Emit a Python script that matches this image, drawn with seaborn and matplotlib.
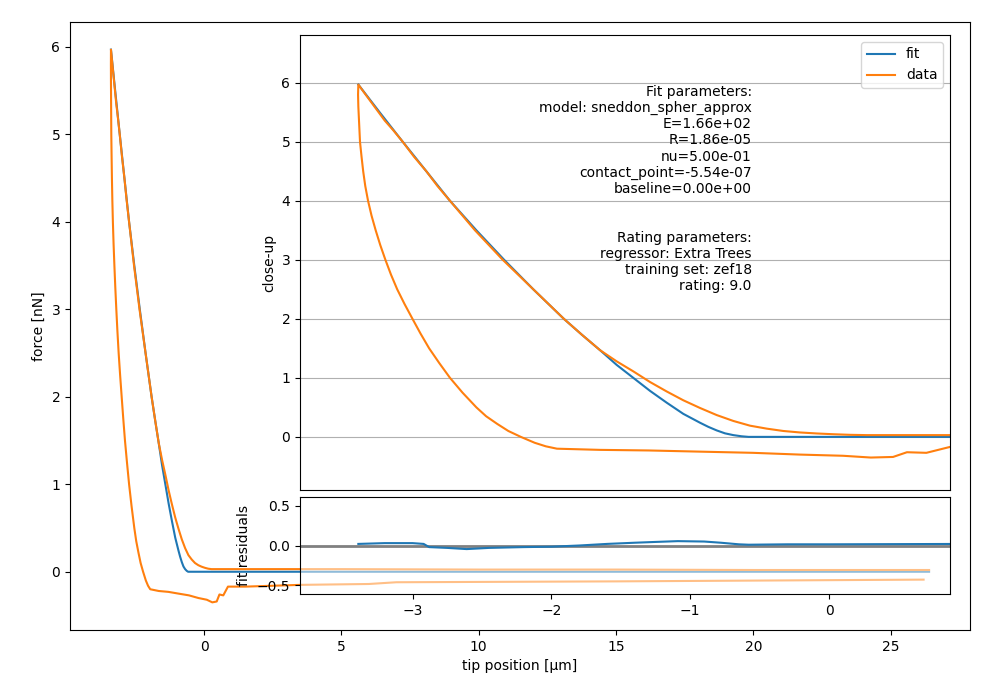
import seaborn as sns
import matplotlib.pyplot as plt

# approach part of the curve, from far away towards the indentation peak
approach_x = [26.4, 20.0, 15.0, 10.0, 5.0, 0.87, 0.27, 0.15, 0.03, -0.09, -0.21, -0.33,
              -0.45, -0.57, -0.69, -0.81, -0.93, -1.05, -1.17, -1.29, -1.41, -1.53, -1.65,
              -1.78, -1.91, -2.02, -2.13, -2.24, -2.35, -2.45, -2.55, -2.64, -2.73, -2.82,
              -2.90, -2.99, -3.07, -3.14, -3.20, -3.25, -3.30, -3.35, -3.39]
approach_f = [0.02, 0.02, 0.025, 0.025, 0.03, 0.03, 0.03, 0.035, 0.045, 0.058, 0.075, 0.10,
              0.14, 0.19, 0.27, 0.37, 0.49, 0.62, 0.77, 0.93, 1.11, 1.28, 1.47,
              1.73, 2.0, 2.25, 2.5, 2.75, 3.0, 3.25, 3.5, 3.75, 4.0, 4.25,
              4.5, 4.75, 5.0, 5.2, 5.36, 5.52, 5.68, 5.84, 5.97]

# retract part, from the peak back out
retract_x = [-3.39, -3.392, -3.39, -3.386, -3.382, -3.378, -3.367, -3.355, -3.34, -3.32,
             -3.295, -3.265, -3.232, -3.195, -3.155, -3.11, -3.057, -3.0, -2.942, -2.88,
             -2.807, -2.73, -2.64, -2.54, -2.47, -2.39, -2.31, -2.22, -2.12,
             -2.04, -1.96, -1.65, -1.30, -0.93, -0.55, -0.21, 0.10, 0.30, 0.46, 0.56, 0.70,
             0.87, 1.5, 3.5, 6.0, 7.0, 15.0, 26.2]
retract_f = [5.97, 5.8, 5.6, 5.4, 5.2, 5.0, 4.75, 4.5, 4.25, 4.0,
             3.75, 3.5, 3.25, 3.0, 2.75, 2.5, 2.25, 2.0, 1.75, 1.5,
             1.25, 1.0, 0.75, 0.5, 0.35, 0.22, 0.1, 0.0, -0.1,
             -0.16, -0.2, -0.22, -0.23, -0.25, -0.27, -0.30, -0.32, -0.35, -0.34, -0.26, -0.27,
             -0.17, -0.17, -0.15, -0.14, -0.12, -0.11, -0.09]

# model fit (sneddon_spher_approx)
fit_x = [-3.39, -3.23, -3.07, -2.90, -2.73, -2.54, -2.34, -2.13, -1.91, -1.78, -1.65,
         -1.53, -1.41, -1.29, -1.17, -1.05, -0.93, -0.87, -0.81, -0.75, -0.69, -0.63,
         -0.58, 26.4]
fit_f = [5.97, 5.48, 5.0, 4.5, 4.0, 3.5, 3.0, 2.5, 2.0, 1.73, 1.47,
         1.22, 1.0, 0.78, 0.58, 0.39, 0.24, 0.17, 0.11, 0.06, 0.03, 0.01,
         0.0, 0.0]

# fit residuals
resid_x = [-3.39, -3.2, -3.0, -2.92, -2.88, -2.75, -2.61, -2.45, -2.2, -2.0, -1.8, -1.6,
           -1.4, -1.25, -1.09, -0.9, -0.78, -0.65, -0.58, -0.3, 0.0, 1.0]
resid_f = [0.02, 0.03, 0.03, 0.02, -0.02, -0.03, -0.045, -0.03, -0.02, -0.015, 0.0, 0.02,
           0.035, 0.045, 0.055, 0.05, 0.035, 0.015, 0.01, 0.015, 0.015, 0.02]

data_x = approach_x + retract_x[1:]
data_f = approach_f + retract_f[1:]

info = ("Fit parameters:\nmodel: sneddon_spher_approx\nE=1.66e+02\nR=1.86e-05\n"
        "nu=5.00e-01\ncontact_point=-5.54e-07\nbaseline=0.00e+00\n\n\n"
        "Rating parameters:\nregressor: Extra Trees\ntraining set: zef18\nrating: 9.0")

fig = plt.figure(figsize=(10, 7), dpi=100)

# full curve
ax = fig.add_axes([0.07, 0.1, 0.9, 0.8686])
sns.lineplot(x=fit_x, y=fit_f, sort=False, estimator=None, color="C0", legend=False, ax=ax)
sns.lineplot(x=data_x, y=data_f, sort=False, estimator=None, color="C1", legend=False, ax=ax)
ax.set_xlabel("tip position [\u00b5m]")
ax.set_ylabel("force [nN]")

# close-up
axc = fig.add_axes([0.30, 0.30, 0.65, 0.65])
sns.lineplot(x=fit_x, y=fit_f, sort=False, estimator=None, color="C0", label="fit",
             legend=False, ax=axc)
sns.lineplot(x=data_x, y=data_f, sort=False, estimator=None, color="C1", label="data",
             legend=False, ax=axc)
axc.set_xlim(-3.81, 0.87)
axc.set_ylim(-0.90, 6.81)
axc.grid(axis="y")
axc.tick_params(bottom=False, labelbottom=False)
axc.set_ylabel("close-up")
axc.legend(loc="upper right")
axc.text(0.695, 0.891, info, transform=axc.transAxes, ha="right", va="top",
         multialignment="right")

# residuals, half transparent so the main curve shows through
axr = fig.add_axes([0.30, 0.1514, 0.65, 0.1386])
axr.patch.set_alpha(0.5)
axr.axhline(0, color="gray", lw=2)
sns.lineplot(x=resid_x, y=resid_f, sort=False, estimator=None, color="C0", legend=False, ax=axr)
axr.set_xlim(-3.81, 0.87)
axr.set_ylim(-0.61, 0.61)
axr.set_ylabel("fit residuals")

plt.savefig("out.png")
